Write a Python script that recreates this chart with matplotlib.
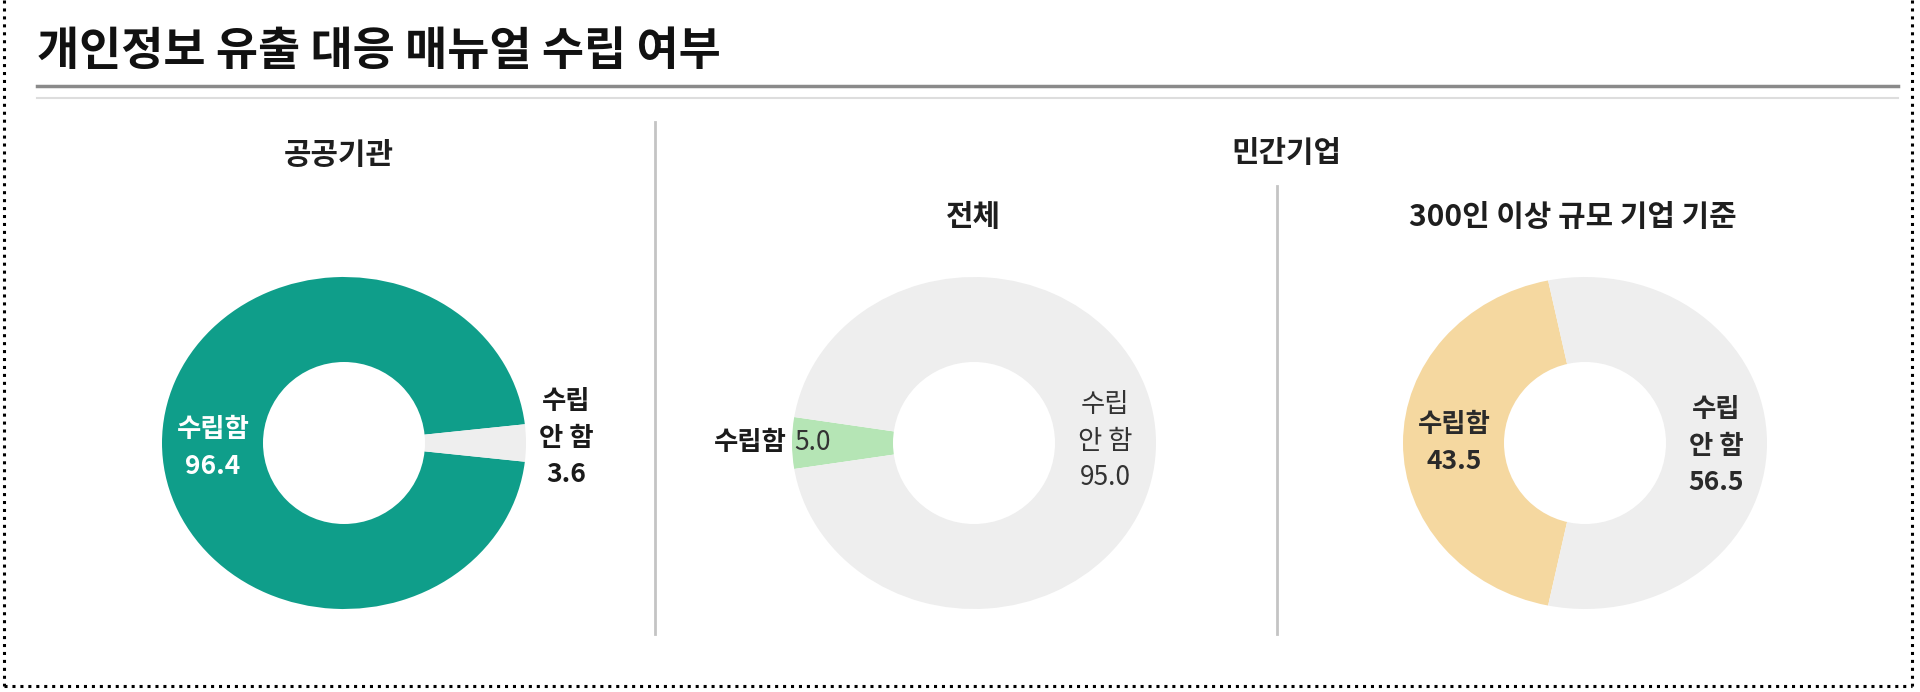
import matplotlib
matplotlib.use("Agg")
import matplotlib.pyplot as plt
from matplotlib.lines import Line2D
from matplotlib.patches import Ellipse

plt.rcParams["font.family"] = ["Noto Sans CJK KR", "DejaVu Sans"]

# data
title = "개인정보 유출 대응 매뉴얼 수립 여부"
panel_titles = ["공공기관", "전체", "300인 이상 규모 기업 기준"]
group_title = "민간기업"
labels = ["수립함", "수립 안 함"]
public_vals = [96.4, 3.6]
private_all_vals = [5.0, 95.0]
private_300_vals = [43.5, 56.5]

TEAL = "#0f9e8a"
GREEN = "#b5e5b5"
SAND = "#f5d8a0"
GRAY = "#eeeeee"

W, H = 1920, 692
fig = plt.figure(figsize=(W / 100, H / 100), dpi=100)


def fx(x):
    return x / W


def fy(y):
    return 1 - y / H


def hline(x0, x1, y, **kw):
    fig.add_artist(Line2D([fx(x0), fx(x1)], [fy(y), fy(y)], transform=fig.transFigure, **kw))


def vline(x, y0, y1, **kw):
    fig.add_artist(Line2D([fx(x), fx(x)], [fy(y0), fy(y1)], transform=fig.transFigure, **kw))


# frame / header
dots = dict(color="black", lw=2.2, linestyle=(0, (1, 1.6)))
vline(4, 0, 686, **dots)
vline(1912, 0, 686, **dots)
hline(4, 1912, 686, **dots)

fig.text(fx(37), fy(52), title, fontsize=33, fontweight="bold", color="#111111",
         ha="left", va="center")
hline(37, 1898, 86, color="#8a8a8a", lw=2.5)
hline(37, 1898, 98, color="#dddddd", lw=1.5)

vline(655, 122, 634, color="#c4c4c4", lw=2)
vline(1277, 186, 634, color="#c4c4c4", lw=2)

sub_kw = dict(fontsize=21.5, fontweight="semibold", ha="center", va="center",
              color="#1e1e1e")
fig.text(fx(339), fy(155), panel_titles[0], **sub_kw)
fig.text(fx(1286), fy(153), group_title, **sub_kw)
fig.text(fx(973), fy(217), panel_titles[1], **sub_kw)
fig.text(fx(1573), fy(217), panel_titles[2], **sub_kw)

RX, RY = 182, 166   # outer radius in px
HOLE = 81           # hole radius in px
HALF = 250


def donut(cx, cy, vals, colors):
    ax = fig.add_axes([fx(cx - HALF), fy(cy + HALF), 2 * HALF / W, 2 * HALF / H])
    share = vals[0] / sum(vals)
    ax.pie(vals, colors=colors, startangle=180 - 180 * share, counterclock=True,
           wedgeprops=dict(linewidth=0))
    ax.add_patch(Ellipse((0, 0), 2 * HOLE / RX, 2 * HOLE / RY, facecolor="white",
                         edgecolor="none", zorder=3))
    ax.set_aspect("auto")
    ax.set_xlim(-HALF / RX, HALF / RX)
    ax.set_ylim(-HALF / RY, HALF / RY)
    ax.axis("off")
    return ax


def fmt(v):
    return "{:.1f}".format(v)


FS = 19
lab_kw = dict(fontsize=FS, ha="center", va="center", linespacing=1.45, zorder=5)
no_label = "수립\n안 함"

ax1 = donut(344, 443, public_vals, [TEAL, GRAY])
ax1.text(-0.72, -0.03, labels[0] + "\n" + fmt(public_vals[0]), color="white",
         fontweight="bold", **lab_kw)
ax1.text(1.22, 0.03, no_label + "\n" + fmt(public_vals[1]), color="#1a1a1a",
         fontweight="bold", **lab_kw)

ax2 = donut(974, 443, private_all_vals, [GREEN, GRAY])
ax2.text(-1.03, 0, labels[0], color="#1a1a1a", fontweight="bold", fontsize=FS,
         ha="right", va="center")
ax2.text(-0.99, 0, fmt(private_all_vals[0]), color="#333333", fontsize=FS,
         ha="left", va="center")
ax2.text(0.72, 0.01, no_label + "\n" + fmt(private_all_vals[1]), color="#333333",
         **lab_kw)

ax3 = donut(1585, 443, private_300_vals, [SAND, GRAY])
ax3.text(-0.72, 0, labels[0] + "\n" + fmt(private_300_vals[0]), color="#2a2a2a",
         fontweight="bold", **lab_kw)
ax3.text(0.72, -0.02, no_label + "\n" + fmt(private_300_vals[1]), color="#2a2a2a",
         fontweight="bold", **lab_kw)

fig.savefig("out.png", dpi=100, facecolor="white")
